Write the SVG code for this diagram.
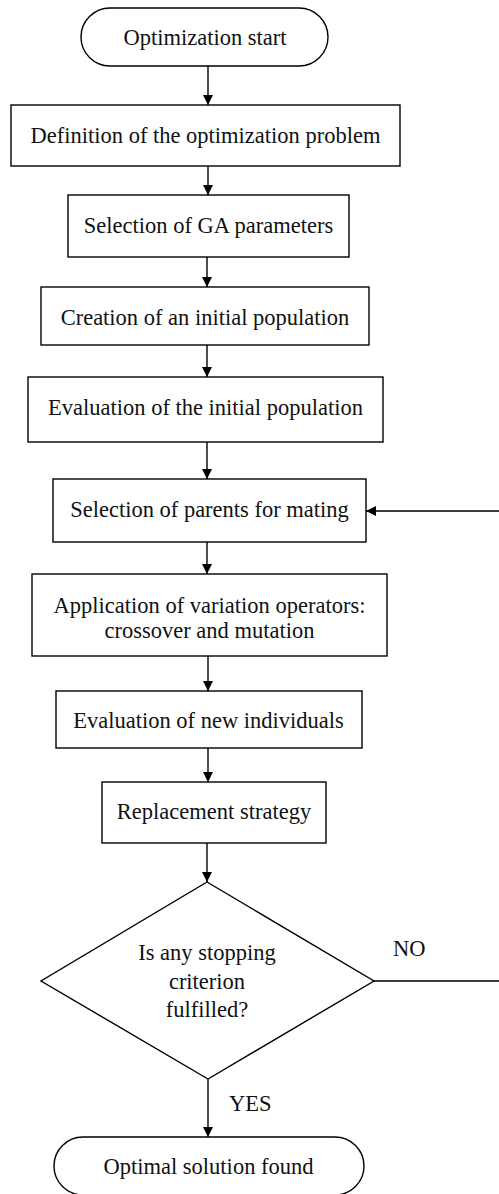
<svg xmlns="http://www.w3.org/2000/svg" width="499" height="1194" viewBox="0 0 499 1194">
  <style>
    .shape { fill: #fff; stroke: #000; stroke-width: 1.4; }
    .label { font-family: "Liberation Serif", "Times New Roman", serif; font-size: 22.5px; fill: #111; text-anchor: middle; }
    .tag { font-family: "Liberation Serif", "Times New Roman", serif; font-size: 22.5px; fill: #111; text-anchor: start; }
    .edge { fill: none; stroke: #000; stroke-width: 1.4; }
  </style>
  <defs>
    <marker id="arrow" markerUnits="userSpaceOnUse" markerWidth="11" markerHeight="11" refX="10" refY="5" orient="auto">
      <path d="M0,0 L10,5 L0,10 z" fill="#000"/>
    </marker>
  </defs>
  <rect width="499" height="1194" fill="#fff"/>

  <!-- connectors -->
  <g id="connectors">
    <path class="edge" d="M208,66 V105" marker-end="url(#arrow)"/>
    <path class="edge" d="M208,166 V195" marker-end="url(#arrow)"/>
    <path class="edge" d="M207,257 V287" marker-end="url(#arrow)"/>
    <path class="edge" d="M207,345 V377" marker-end="url(#arrow)"/>
    <path class="edge" d="M207,442 V479" marker-end="url(#arrow)"/>
    <path class="edge" d="M207,542 V574" marker-end="url(#arrow)"/>
    <path class="edge" d="M208,656 V691" marker-end="url(#arrow)"/>
    <path class="edge" d="M208,748 V782" marker-end="url(#arrow)"/>
    <path class="edge" d="M207,843 V882" marker-end="url(#arrow)"/>
    <path class="edge" d="M208,1079 V1137" marker-end="url(#arrow)"/>
    <!-- NO branch loops back to parent selection -->
    <path class="edge" d="M374,981 H502 V511 H366" marker-end="url(#arrow)"/>
    <text class="tag" x="393" y="956">NO</text>
    <text class="tag" x="229" y="1111">YES</text>
  </g>

  <g id="start">
    <rect class="shape" x="81" y="8" width="247" height="58" rx="29" ry="29"/>
    <text class="label" x="205" y="45">Optimization start</text>
  </g>

  <g id="definition">
    <rect class="shape" x="11" y="105" width="389" height="61"/>
    <text class="label" x="205.5" y="143">Definition of the optimization problem</text>
  </g>

  <g id="ga-parameters">
    <rect class="shape" x="68" y="195" width="281" height="62"/>
    <text class="label" x="208.5" y="233">Selection of GA parameters</text>
  </g>

  <g id="initial-population">
    <rect class="shape" x="41" y="287" width="328" height="58"/>
    <text class="label" x="205" y="324.5">Creation of an initial population</text>
  </g>

  <g id="evaluate-initial">
    <rect class="shape" x="28" y="377" width="355" height="65"/>
    <text class="label" x="205.5" y="415">Evaluation of the initial population</text>
  </g>

  <g id="parent-selection">
    <rect class="shape" x="53" y="479" width="313" height="63"/>
    <text class="label" x="209.5" y="517">Selection of parents for mating</text>
  </g>

  <g id="variation">
    <rect class="shape" x="32" y="574" width="355" height="82"/>
    <text class="label" x="209.5" y="612.5">Application of variation operators:</text>
    <text class="label" x="209.5" y="637.5">crossover and mutation</text>
  </g>

  <g id="evaluate-new">
    <rect class="shape" x="56" y="691" width="306" height="57"/>
    <text class="label" x="208.5" y="727.5">Evaluation of new individuals</text>
  </g>

  <g id="replacement">
    <rect class="shape" x="102" y="782" width="224" height="61"/>
    <text class="label" x="214" y="819">Replacement strategy</text>
  </g>

  <g id="stop-check">
    <polygon class="shape" points="207,882 374,981 208,1079 41,981"/>
    <text class="label" x="207" y="960">Is any stopping</text>
    <text class="label" x="207" y="988.5">criterion</text>
    <text class="label" x="207" y="1017">fulfilled?</text>
  </g>

  <g id="end">
    <rect class="shape" x="54" y="1137" width="310" height="58" rx="29" ry="29"/>
    <text class="label" x="208.5" y="1174">Optimal solution found</text>
  </g>
</svg>
